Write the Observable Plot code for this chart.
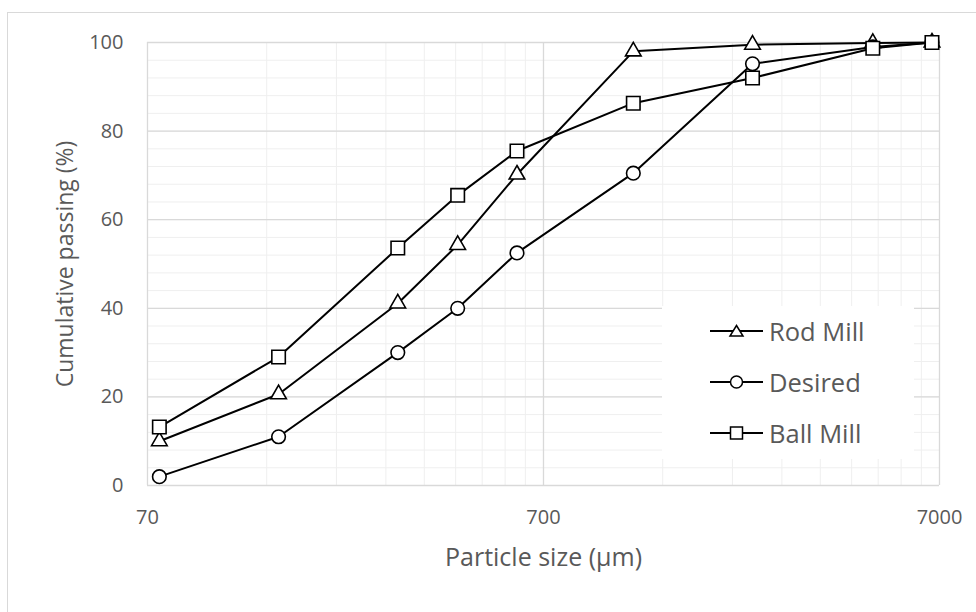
<!DOCTYPE html>
<html>
<head>
<meta charset="utf-8">
<script src="https://cdn.jsdelivr.net/npm/d3@7"></script>
<script src="https://cdn.jsdelivr.net/npm/@observablehq/plot@0.6"></script>
<style>
  html, body { margin: 0; padding: 0; background: #fff; overflow: hidden; width: 976px; height: 612px; }
  #wrap { position: relative; width: 976px; height: 612px; }
  #border { position: absolute; left: 7px; top: 12px; width: 1000px; height: 700px; border: 1px solid #d9d9d9; box-sizing: border-box; }
  #chart { position: absolute; left: 0; top: 0; }
  #legend { position: absolute; left: 662px; top: 306px; width: 252px; height: 153px; background: #fff;
            font-family: "Open Sans", sans-serif; font-size: 25.5px; color: #595959; }
  .row { position: absolute; left: 48px; height: 30px; display: flex; align-items: center; }
  .row svg { display: block; }
  .row span { margin-left: 6px; line-height: 30px; }
</style>
</head>
<body>
<div id="wrap">
  <div id="border"></div>
  <div id="chart"></div>
  <div id="legend"></div>
</div>
<script>
// Sieve sizes (µm)
const sizes = [75, 150, 300, 425, 600, 1180, 2360, 4750, 6700];
// Cumulative passing (%)
const rodMill  = [10, 20.6, 41.1, 54.3, 70.2, 98.0, 99.5, 99.9, 100];
const desired  = [2, 11, 30, 40, 52.5, 70.5, 95.2, 99, 100];
const ballMill = [13.2, 29, 53.6, 65.5, 75.5, 86.3, 92.0, 98.7, 100];

const seriesNames = ["Rod Mill", "Desired", "Ball Mill"];
const seriesSymbols = ["triangle", "circle", "square"];

const xTicks = [70, 700, 7000];
const yTicks = [0, 20, 40, 60, 80, 100];

const xMinor = [];
for (const base of [70, 700]) for (let k = 2; k <= 9; k++) xMinor.push(base * k);
const yMinor = d3.range(0, 101, 4);

const rows = (vals) => sizes.map((s, i) => ({size: s, value: vals[i]}));
const rod = rows(rodMill), des = rows(desired), ball = rows(ballMill);

const txt = "#595959";
const font = "Open Sans, sans-serif";

const chart = Plot.plot({
  width: 976,
  height: 612,
  marginLeft: 147,
  marginRight: 37,
  marginTop: 42,
  marginBottom: 127,
  style: { fontFamily: font, background: "transparent", overflow: "visible" },
  x: { type: "log", domain: [70, 7000], axis: null },
  y: { domain: [0, 100], axis: null },
  marks: [
    Plot.ruleX(xMinor, { stroke: "#efefef", strokeWidth: 1 }),
    Plot.ruleY(yMinor, { stroke: "#efefef", strokeWidth: 1 }),
    Plot.ruleX(xTicks, { stroke: "#d9d9d9", strokeWidth: 1.3 }),
    Plot.ruleY(yTicks, { stroke: "#d9d9d9", strokeWidth: 1.3 }),
    Plot.text(xTicks, { x: d => d, frameAnchor: "bottom", dy: 38, textAnchor: "middle", text: d => String(d), fontSize: 20, fill: txt }),
    Plot.text(yTicks, { y: d => d, frameAnchor: "left", dx: -24, textAnchor: "end", text: d => String(d), fontSize: 20, fill: txt }),
    Plot.text(["Particle size (µm)"], { frameAnchor: "bottom", dy: 80, textAnchor: "middle", fontSize: 25, fill: txt }),
    Plot.text(["Cumulative passing (%)"], { frameAnchor: "left", dx: -82, textAnchor: "middle", rotate: -90, fontSize: 23, fill: txt }),
    Plot.line(rod, { x: "size", y: "value", stroke: "black", strokeWidth: 2 }),
    Plot.dot(rod, { x: "size", y: "value", symbol: "triangle", r: 5.8, fill: "white", stroke: "black", strokeWidth: 1.6 }),
    Plot.line(des, { x: "size", y: "value", stroke: "black", strokeWidth: 2 }),
    Plot.dot(des, { x: "size", y: "value", symbol: "circle", r: 6.8, fill: "white", stroke: "black", strokeWidth: 1.6 }),
    Plot.line(ball, { x: "size", y: "value", stroke: "black", strokeWidth: 2 }),
    Plot.dot(ball, { x: "size", y: "value", symbol: "square", r: 7.6, fill: "white", stroke: "black", strokeWidth: 1.6 })
  ]
});
document.getElementById("chart").appendChild(chart);

// Legend
const legend = document.getElementById("legend");
const rowTops = [25, 76, 127];
const symPaths = {
  triangle: '<path d="M26.5,9.5 L33,20 L20,20 Z" fill="white" stroke="black" stroke-width="1.5"/>',
  circle: '<circle cx="26.5" cy="15" r="6" fill="white" stroke="black" stroke-width="1.5"/>',
  square: '<rect x="20.5" y="9" width="12" height="12" fill="white" stroke="black" stroke-width="1.5"/>'
};
seriesNames.forEach((name, i) => {
  const row = document.createElement("div");
  row.className = "row";
  row.style.top = (rowTops[i] - 15) + "px";
  row.innerHTML = '<svg width="53" height="30"><line x1="0" y1="15" x2="53" y2="15" stroke="black" stroke-width="2"/>' +
    symPaths[seriesSymbols[i]] + '</svg><span>' + name + '</span>';
  legend.appendChild(row);
});
</script>
</body>
</html>
